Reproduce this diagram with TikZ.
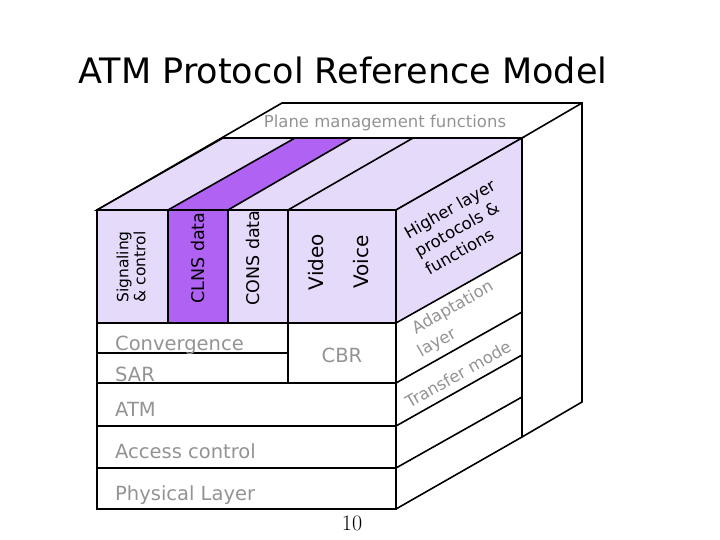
\documentclass[tikz,border=0pt]{standalone}
\usepackage{fontspec}
\setmainfont{DejaVu Sans}
\begin{document}
\begin{tikzpicture}[x=1pt,y=-1pt,
  ln/.style={black,line width=1.6pt,line join=miter},
  gl/.style={text=gray!85,font=\fontsize{19.5}{21}\selectfont,inner sep=0pt,anchor=base west},
  vt/.style={rotate=90,inner sep=0pt,align=center},
  st/.style={rotate=29.7,inner sep=0pt}]
\definecolor{lav}{HTML}{E6DAFA}
\definecolor{pur}{HTML}{B062F2}
\useasboundingbox (0,0) rectangle (720,540);
% outer back box
\draw[ln] (97,210) -- (282,103) -- (582,103) -- (582,402) -- (522,437);
\draw[ln] (522,138) -- (582,103);
% top face
\fill[lav] (97,210) -- (223,138) -- (522,138) -- (396,210) -- cycle;
\fill[pur] (168,210) -- (295,138) -- (352,138) -- (228,210) -- cycle;
\draw[ln] (97,210) -- (223,138) -- (522,138) -- (396,210) -- cycle;
\draw[ln] (168,210) -- (295,138) (228,210) -- (352,138) (288,210) -- (413,138);
% side face
\fill[lav] (396,210) -- (522,138) -- (522,252) -- (396,323) -- cycle;
\draw[ln] (396,210) -- (522,138) -- (522,437) -- (396,509);
\foreach \y in {323,383,426,468} \draw[ln] (396,\y) -- (522,\y-71);
% front
\fill[lav] (97,210) rectangle (396,323);
\fill[pur] (168,210) rectangle (228,323);
\draw[ln] (97,210) rectangle (396,509);
\draw[ln] (168,210) -- (168,323) (228,210) -- (228,323) (288,210) -- (288,383);
\draw[ln] (97,323) -- (396,323) (97,353) -- (288,353);
\foreach \y in {383,426,468} \draw[ln] (97,\y) -- (396,\y);
% title
\node[font=\fontsize{35}{37}\selectfont,inner sep=0pt] (title) at (343,70) {ATM Protocol Reference Model};
\node[text=gray!85,font=\fontsize{16.5}{18}\selectfont,inner sep=0pt] (pm) at (385,123) {Plane management functions};
% front vertical labels
\node[vt,font=\fontsize{15.5}{17}\selectfont] (sig) at (131,267) {Signaling\\\& control};
\node[vt,font=\fontsize{17.5}{19}\selectfont] (clns) at (198,258) {CLNS data};
\node[vt,font=\fontsize{17.5}{19}\selectfont] (cons) at (253,258) {CONS data};
\node[vt,font=\fontsize{20}{22}\selectfont] (video) at (316,262) {Video};
\node[vt,font=\fontsize{20}{22}\selectfont] (voice) at (361,262) {Voice};
% lower labels
\node[gl] (conv) at (115,350) {Convergence};
\node[gl] (sar) at (115,381) {SAR};
\node[gl,anchor=center] (cbr) at (342,355) {CBR};
\node[gl] (atm) at (115,416) {ATM};
\node[gl] (acc) at (115,458) {Access control};
\node[gl] (phy) at (115,500) {Physical Layer};
\node[font=\fontfamily{lmr}\fontsize{22}{24}\selectfont,inner sep=0pt] (pg) at (352,523) {10};
% side labels
\node[st,align=left,font=\fontsize{16.5}{21}\selectfont] (hl) at (460,227) {Higher layer\\protocols \&\\functions};
\node[st,text=gray!85,font=\fontsize{16.5}{18}\selectfont] (ad) at (453,308) {Adaptation};
\node[st,text=gray!85,font=\fontsize{16.5}{18}\selectfont] (ly) at (437,343) {layer};
\node[st,text=gray!85,font=\fontsize{16.5}{18}\selectfont] (tm) at (458,374) {Transfer mode};
\end{tikzpicture}
\end{document}
